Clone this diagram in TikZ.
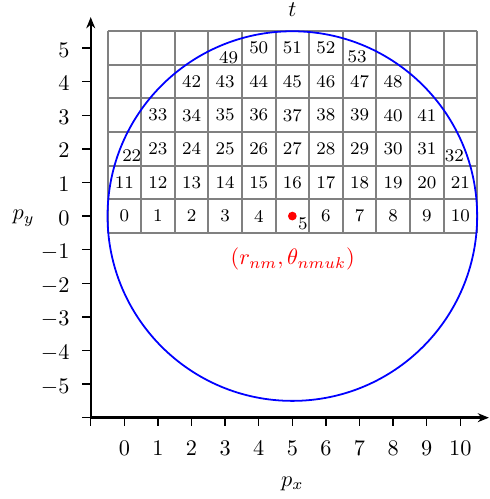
\documentclass[tikz,border=0pt]{standalone}
\usetikzlibrary{arrows.meta}
\begin{document}
\begin{tikzpicture}[x=0.53cm,y=0.53cm,
  axisline/.style={line width=1.1pt,-{Stealth[length=5pt,width=4pt]}},
  tickline/.style={line width=0.6pt},
  ticklabel/.style={inner sep=0pt},
  cellnum/.style={font=\footnotesize,inner sep=0pt},
  gridline/.style={gray,line width=0.9pt},
  circline/.style={blue,line width=0.8pt},
  axislabel/.style={inner sep=0pt}]
\useasboundingbox (-3.70,-8.42) rectangle (10.87,6.43);
% grid
\foreach \x in {0,...,11} \draw[gridline] (\x-0.5,-0.5) -- (\x-0.5,5.5);
\foreach \y in {0,...,6} \draw[gridline] (-0.5,\y-0.5) -- (10.5,\y-0.5);
% axes
\coordinate (O) at (-1,-6);
\coordinate (X) at (10.85,-6);
\coordinate (Y) at (-1,5.92);
\draw[axisline] (O) -- (X);
\draw[axisline] (O) -- (Y);
% ticks
\foreach \x in {-1,...,10} \draw[tickline] (\x,-6) -- (\x,-6.25);
\foreach \y in {-6,...,5} \draw[tickline] (-1,\y) -- (-1.25,\y);
\foreach \x in {0,...,10} \node[ticklabel,anchor=base] (xl\x) at (\x,-7.14) {$\x$};
\foreach \y in {-5,...,5} \node[ticklabel,anchor=base east] (yl\y) at (-1.62,\y-0.27) {$\y$};
% axis labels
\node[axislabel,anchor=base] (tl) at (5,5.93) {$t$};
\node[axislabel,anchor=base] (pxl) at (5,-8.05) {$p_x$};
\node[axislabel,anchor=base] (pyl) at (-3.0,-0.11) {$p_y$};
% circle
\draw[circline] (5,0) circle (5.5);
% cell numbers
\foreach \x in {0,...,4} {\pgfmathtruncatemacro{\n}{\x}\node[cellnum] (n\n) at (\x,0) {\n};}
\foreach \x in {6,...,10} {\pgfmathtruncatemacro{\n}{\x}\node[cellnum] (n\n) at (\x,0) {\n};}
\foreach \x in {0,...,10} {\pgfmathtruncatemacro{\n}{\x+11}\node[cellnum] (n\n) at (\x,1) {\n};}
\foreach \x in {1,...,9} {\pgfmathtruncatemacro{\n}{\x+22}\node[cellnum] (n\n) at (\x,2) {\n};}
\foreach \x in {1,...,9} {\pgfmathtruncatemacro{\n}{\x+32}\node[cellnum] (n\n) at (\x,3) {\n};}
\foreach \x in {2,...,8} {\pgfmathtruncatemacro{\n}{\x+40}\node[cellnum] (n\n) at (\x,4) {\n};}
\foreach \x in {4,...,6} {\pgfmathtruncatemacro{\n}{\x+46}\node[cellnum] (n\n) at (\x,5) {\n};}
% shifted labels
\node[cellnum] (n22) at (0.22,1.79) {22};
\node[cellnum] (n32) at (9.82,1.79) {32};
\node[cellnum] (n49) at (3.1,4.72) {49};
\node[cellnum] (n53) at (6.93,4.75) {53};
\node[cellnum] (n5) at (5.31,-0.24) {5};
% red point
\fill[red] (5,0) circle (0.13);
\node[red,inner sep=0pt,anchor=base] (rl) at (5.01,-1.45) {$(r_{nm},\theta_{nmuk})$};
\end{tikzpicture}
\end{document}
